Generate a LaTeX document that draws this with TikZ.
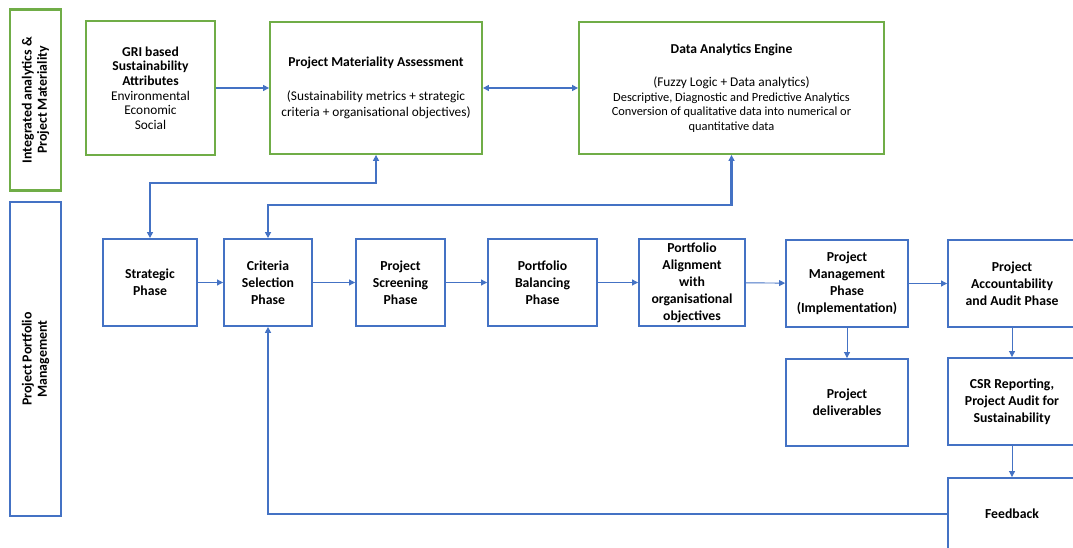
\documentclass[tikz,border=0pt]{standalone}
\usepackage{fontspec}
\setmainfont{Carlito}
\usepackage{tikz}
\usetikzlibrary{arrows.meta}

\definecolor{boxgreen}{RGB}{112,173,71}
\definecolor{boxblue}{RGB}{68,114,196}

\begin{document}
\begin{tikzpicture}[x=0.75pt, y=-0.75pt,
  greenbox/.style={draw=boxgreen, line width=1.4pt, align=center, inner sep=0pt,
    font=\fontsize{10}{11}\selectfont},
  bluebox/.style={draw=boxblue, line width=1.4pt, align=center, inner sep=0pt,
    font=\bfseries\fontsize{10.3}{12.7}\selectfont},
  sidelabel/.style={rotate=90, align=center, inner sep=0pt, line width=1.6pt,
    font=\bfseries\fontsize{10.4}{11.4}\selectfont},
  tip/.style={-{Triangle[length=4.5pt,width=4.5pt]}},
  flowarrow/.style={draw=boxblue, line width=0.7pt, tip},
  linkarrow/.style={draw=boxblue, line width=1.1pt, {Triangle[length=4.5pt,width=4.5pt]}-{Triangle[length=4.5pt,width=4.5pt]}},
]
\useasboundingbox (0,0) rectangle (1073,548);
\clip (0,0) rectangle (1073,548);

\node[sidelabel, draw=boxgreen, minimum width=135.75pt, minimum height=38.25pt] (sideA) at (35.5,100)
  {Integrated analytics \&\\Project Materiality};
\node[sidelabel, draw=boxblue, minimum width=235.5pt, minimum height=38.25pt] (sideB) at (35.5,359)
  {Project Portfolio\\Management};

\node[greenbox, minimum width=96.75pt, minimum height=100.5pt] (gri) at (150.5,88)
  {\textbf{\fontsize{10.2}{12.5}\selectfont GRI based}\\\textbf{\fontsize{10.2}{12.5}\selectfont Sustainability}\\\textbf{\fontsize{10.2}{12.5}\selectfont Attributes}\\Environmental\\Economic\\Social};
\node[greenbox, minimum width=159pt, minimum height=99pt, font=\fontsize{10}{12}\selectfont] (pma) at (376,88)
  {\textbf{\fontsize{10.2}{11}\selectfont Project Materiality Assessment}\\[13pt]
   (Sustainability metrics + strategic\\criteria + organisational objectives)};
\node[greenbox, minimum width=228.75pt, minimum height=99pt] (dae) at (731.5,88)
  {\textbf{\fontsize{10.2}{11}\selectfont Data Analytics Engine}\\[14pt]
   (Fuzzy Logic + Data analytics)\\
   {\fontsize{9.3}{11.6}\selectfont Descriptive, Diagnostic and Predictive Analytics}\\
   {\fontsize{9.3}{11.6}\selectfont Conversion of qualitative data into numerical or}\\
   {\fontsize{9.3}{11.6}\selectfont quantitative data}};

\node[bluebox, minimum width=70.5pt, minimum height=65.25pt] (strat) at (150,282.5) {Strategic\\Phase};
\node[bluebox, minimum width=66pt, minimum height=65.25pt] (crit) at (268,282.5) {Criteria\\Selection\\Phase};
\node[bluebox, minimum width=66.75pt, minimum height=65.25pt] (screen) at (400.5,282.5) {Project\\Screening\\Phase};
\node[bluebox, minimum width=81.75pt, minimum height=65.25pt] (balance) at (542.5,282.5) {Portfolio\\Balancing\\Phase};
\node[bluebox, minimum width=79.5pt, minimum height=65.25pt] (align) at (692,282.5) {Portfolio\\Alignment\\with\\organisational\\objectives};
\node[bluebox, minimum width=91.5pt, minimum height=65.25pt] (pm) at (847,283.5) {Project\\Management\\Phase\\(Implementation)};
\node[bluebox, minimum width=96pt, minimum height=65.25pt] (acc) at (1012,283.5) {Project\\Accountability\\and Audit Phase};
\node[bluebox, minimum width=91.5pt, minimum height=65.25pt] (deliv) at (847,402.5) {Project\\deliverables};
\node[bluebox, minimum width=96pt, minimum height=65.25pt] (csr) at (1012,401.5) {CSR Reporting,\\Project Audit for\\Sustainability};
\node[bluebox, minimum width=96pt, minimum height=54pt] (fb) at (1012,514) {Feedback};

\draw[flowarrow, line width=1pt] (gri.east |- 0,88) -- (pma.west |- 0,88);
\draw[linkarrow, line width=1.5pt] (pma.east |- 0,88) -- (dae.west |- 0,88);
\draw[linkarrow] (strat.north) -- (strat.north |- 0,183) -| (pma.south);
\draw[linkarrow, line width=2pt] (crit.north) -- (crit.north |- 0,205) -| (dae.south);

\draw[flowarrow] (strat) -- (crit);
\draw[flowarrow] (crit) -- (screen);
\draw[flowarrow] (screen) -- (balance);
\draw[flowarrow] (balance) -- (align);
\draw[flowarrow] (align) -- (pm);
\draw[flowarrow] (pm) -- (acc);
\draw[flowarrow] (pm) -- (deliv);
\draw[flowarrow] (acc) -- (csr);
\draw[flowarrow] (csr) -- (fb);
\draw[flowarrow, line width=1.5pt] (fb.west) -| (crit.south);
\end{tikzpicture}
\end{document}
